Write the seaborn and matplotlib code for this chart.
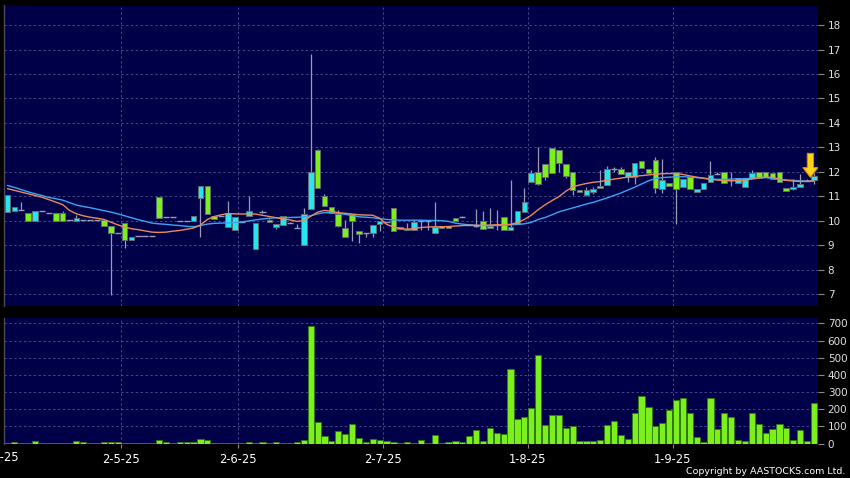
import matplotlib
matplotlib.use("Agg")
import matplotlib.pyplot as plt
import seaborn as sns
import numpy as np
import pandas as pd
from matplotlib.patches import Polygon

# daily candles (HKD), oldest first
opens = [10.37, 10.39, 10.43, 10.30, 10.00, 10.39, 10.30, 10.30, 10.30, 10.02,
         10.00, 10.02, 10.02, 10.02, 10.02, 9.79, 9.51, 9.89, 9.21, 9.37,
         9.37, 9.37, 10.98, 10.13, 10.13, 10.00, 10.00, 10.00, 10.91, 11.42,
         10.20, 10.20, 9.75, 9.61, 9.96, 10.20, 8.86, 10.36, 10.02, 9.75,
         9.84, 9.89, 9.68, 9.00, 10.46, 12.89, 11.00, 10.57, 10.29, 9.68,
         10.27, 9.56, 9.48, 9.48, 9.86, 9.95, 10.52, 9.76, 9.67, 9.62,
         9.99, 10.00, 9.48, 9.78, 9.80, 10.10, 10.13, 9.82, 9.78, 10.00,
         9.72, 9.83, 10.16, 9.62, 9.85, 10.37, 11.60, 12.00, 12.30, 12.98,
         12.87, 12.33, 11.97, 11.27, 11.03, 11.18, 11.33, 11.45, 12.10, 12.10,
         11.80, 11.80, 12.45, 12.10, 12.50, 11.28, 11.55, 11.97, 11.39, 11.80,
         11.16, 11.28, 11.59, 11.90, 11.97, 11.65, 11.55, 11.36, 11.76, 12.00,
         11.97, 11.96, 12.00, 11.32, 11.28, 11.36, 11.62, 11.66]
highs = [11.07, 10.54, 10.77, 10.30, 10.39, 10.39, 10.30, 10.30, 10.41, 10.02,
         10.23, 10.02, 10.02, 10.02, 10.02, 9.79, 9.51, 9.89, 9.32, 9.37,
         9.37, 9.37, 10.98, 10.13, 10.13, 10.00, 10.00, 10.19, 11.42, 11.42,
         10.20, 10.20, 10.80, 10.15, 9.96, 11.00, 9.91, 10.43, 10.05, 9.86,
         10.21, 9.95, 9.86, 10.50, 16.82, 12.92, 11.10, 10.57, 10.42, 10.02,
         10.27, 9.56, 9.48, 9.84, 9.97, 9.95, 10.52, 9.76, 9.90, 10.02,
         9.99, 10.00, 10.78, 9.78, 9.80, 10.10, 10.18, 9.82, 10.46, 10.40,
         10.50, 10.43, 10.16, 11.66, 10.39, 11.33, 12.09, 13.01, 12.30, 12.98,
         12.87, 12.33, 11.97, 11.27, 11.38, 11.38, 12.09, 12.22, 12.20, 12.21,
         12.00, 12.37, 12.45, 12.10, 12.61, 12.52, 11.55, 11.97, 11.69, 11.80,
         11.28, 11.55, 12.45, 12.00, 11.97, 11.99, 11.76, 11.73, 12.09, 12.00,
         11.97, 11.96, 12.00, 11.32, 11.69, 11.90, 11.69, 11.93]
lows = [10.37, 10.39, 10.43, 10.00, 10.00, 10.39, 10.30, 10.00, 10.00, 10.02,
        10.00, 10.02, 10.02, 10.02, 9.79, 6.98, 9.51, 8.87, 9.21, 9.37,
        9.37, 9.37, 10.09, 10.13, 10.13, 10.00, 10.00, 10.00, 9.32, 10.26,
        10.07, 10.20, 9.75, 9.61, 9.96, 10.20, 8.86, 10.30, 9.93, 9.64,
        9.84, 9.89, 9.68, 9.00, 10.46, 11.32, 10.59, 10.32, 9.75, 9.34,
        9.18, 9.10, 9.34, 9.34, 9.57, 9.95, 9.57, 9.67, 9.60, 9.62,
        9.62, 9.62, 9.48, 9.70, 9.72, 10.00, 10.13, 9.82, 9.73, 9.67,
        9.72, 9.62, 9.62, 9.62, 9.85, 10.37, 11.60, 11.45, 11.68, 11.96,
        12.00, 11.73, 11.04, 11.18, 11.00, 11.10, 11.33, 11.45, 12.00, 11.89,
        11.60, 11.52, 12.14, 11.96, 11.14, 11.12, 11.41, 9.85, 11.39, 11.31,
        11.16, 11.28, 11.59, 11.90, 11.55, 11.40, 11.55, 11.36, 11.76, 11.80,
        11.77, 11.69, 11.59, 11.22, 11.24, 11.36, 11.62, 11.52]
closes = [11.07, 10.54, 10.43, 10.00, 10.39, 10.39, 10.30, 10.00, 10.00, 10.02,
          10.12, 10.02, 10.02, 10.02, 9.79, 9.48, 9.51, 9.21, 9.32, 9.37,
          9.37, 9.37, 10.09, 10.13, 10.13, 10.00, 10.00, 10.19, 11.42, 10.26,
          10.07, 10.20, 10.32, 10.15, 9.96, 10.41, 9.91, 10.36, 9.93, 9.86,
          10.21, 9.89, 9.68, 10.29, 12.00, 11.32, 10.59, 10.32, 9.79, 9.34,
          9.98, 9.45, 9.48, 9.84, 9.97, 9.95, 9.57, 9.67, 9.60, 9.96,
          9.99, 10.00, 9.75, 9.70, 9.72, 10.00, 10.13, 9.82, 9.78, 9.67,
          9.80, 9.83, 9.62, 9.75, 10.39, 10.75, 11.96, 11.52, 11.77, 11.96,
          12.34, 11.82, 11.25, 11.18, 11.27, 11.30, 11.40, 12.10, 12.10, 11.89,
          12.00, 12.37, 12.14, 11.96, 11.32, 11.66, 11.41, 11.28, 11.69, 11.31,
          11.28, 11.55, 11.86, 11.90, 11.55, 11.65, 11.76, 11.73, 11.93, 11.80,
          11.77, 11.69, 11.59, 11.22, 11.36, 11.50, 11.62, 11.82]
# volume ('000 shares)
volumes = [1, 6, 1, 1, 13, 1, 1, 1, 1, 1,
           13, 6, 1, 1, 10, 6, 8, 1, 1, 1,
           1, 1, 19, 6, 1, 6, 6, 10, 29, 19,
           1, 1, 4, 1, 1, 6, 4, 6, 1, 8,
           1, 1, 6, 19, 686, 126, 46, 15, 75, 56,
           114, 33, 8, 29, 18, 14, 8, 2, 10, 2,
           19, 2, 49, 2, 6, 12, 8, 46, 78, 14,
           90, 59, 54, 436, 140, 156, 208, 518, 107, 168,
           168, 89, 100, 17, 17, 17, 23, 106, 133, 48,
           25, 180, 276, 211, 104, 118, 195, 251, 265, 180,
           35, 6, 263, 83, 180, 153, 23, 17, 180, 116,
           62, 85, 116, 89, 23, 77, 17, 236]
# moving averages as drawn on the chart
ma_short = [11.31, 11.24, 11.17, 11.10, 11.03, 10.96, 10.86, 10.76, 10.66, 10.42,
            10.28, 10.20, 10.14, 10.10, 10.05, 9.94, 9.83, 9.74, 9.67, 9.63,
            9.58, 9.53, 9.52, 9.53, 9.57, 9.60, 9.65, 9.70, 9.82, 10.05,
            10.17, 10.24, 10.29, 10.28, 10.27, 10.28, 10.27, 10.22, 10.17, 10.12,
            10.08, 10.03, 9.97, 10.00, 10.18, 10.35, 10.42, 10.38, 10.33, 10.30,
            10.27, 10.24, 10.23, 10.22, 10.10, 9.85, 9.74, 9.68, 9.65, 9.68,
            9.72, 9.74, 9.75, 9.75, 9.76, 9.78, 9.80, 9.81, 9.81, 9.81,
            9.82, 9.83, 9.84, 9.85, 9.92, 10.05, 10.22, 10.45, 10.65, 10.82,
            10.98, 11.20, 11.38, 11.46, 11.52, 11.57, 11.60, 11.65, 11.70, 11.74,
            11.78, 11.81, 11.84, 11.87, 11.90, 11.92, 11.93, 11.92, 11.89, 11.83,
            11.78, 11.73, 11.69, 11.66, 11.64, 11.63, 11.64, 11.66, 11.70, 11.74,
            11.78, 11.77, 11.70, 11.65, 11.62, 11.60, 11.61, 11.63]
ma_long = [11.44, 11.36, 11.27, 11.18, 11.10, 11.03, 10.95, 10.90, 10.84, 10.74,
           10.64, 10.58, 10.53, 10.47, 10.41, 10.35, 10.28, 10.20, 10.12, 10.04,
           9.97, 9.90, 9.87, 9.85, 9.82, 9.80, 9.77, 9.75, 9.80, 9.86,
           9.89, 9.90, 9.91, 9.93, 9.95, 9.99, 10.03, 10.07, 10.10, 10.12,
           10.12, 10.13, 10.14, 10.15, 10.20, 10.28, 10.33, 10.32, 10.30, 10.26,
           10.21, 10.16, 10.14, 10.12, 10.08, 10.05, 10.03, 10.02, 10.02, 10.02,
           10.02, 10.01, 10.01, 10.00, 9.97, 9.90, 9.86, 9.83, 9.81, 9.80,
           9.80, 9.81, 9.82, 9.83, 9.85, 9.87, 9.93, 10.05, 10.13, 10.24,
           10.36, 10.44, 10.52, 10.60, 10.68, 10.75, 10.84, 10.93, 11.03, 11.13,
           11.25, 11.37, 11.50, 11.63, 11.72, 11.76, 11.78, 11.79, 11.80, 11.78,
           11.76, 11.74, 11.71, 11.69, 11.69, 11.70, 11.71, 11.72, 11.73, 11.74,
           11.76, 11.73, 11.68, 11.66, 11.65, 11.63, 11.62, 11.62]

month_labels = ["2-5-25", "2-6-25", "2-7-25", "1-8-25", "1-9-25"]
month_first_bar = [17, 34, 55, 76, 97]
prev_month_label = "2-4-25"

BG = "#000000"
PANEL = "#000049"
GRID = "#46468a"
UP = "#26e4f2"
DOWN = "#7cf01c"
WICK = "#9a9ab4"
EDGE = "#5f6f6f"

df = pd.DataFrame({"open": opens, "high": highs, "low": lows,
                   "close": closes, "volume": volumes,
                   "ma_short": ma_short, "ma_long": ma_long})
df["idx"] = np.arange(len(df))

sns.set_style("dark", {"axes.facecolor": PANEL, "figure.facecolor": BG})
plt.rcParams["font.family"] = ["DejaVu Sans"]

fig = plt.figure(figsize=(8.5, 4.78), dpi=100)
ax = fig.add_axes([4 / 850, 1 - 306 / 478, 814 / 850, 300.5 / 478])
axv = fig.add_axes([4 / 850, 1 - 443.5 / 478, 814 / 850, 125.2 / 478])

grid_x = [b - 0.5 for b in month_first_bar]
xlim = (-0.5, len(df) - 0.4)

# price panel
ax.vlines(df["idx"], df["low"], df["high"], color=WICK, linewidth=0.9, zorder=2)
is_up = df["close"] > df["open"]
is_down = df["close"] < df["open"]
is_flat = df["close"] == df["open"]
for mask, col in [(is_up, UP), (is_down, DOWN)]:
    sub = df[mask]
    bottom = sub[["open", "close"]].min(axis=1)
    height = (sub["close"] - sub["open"]).abs()
    ax.bar(sub["idx"], height, bottom=bottom, width=0.82, color=col,
           edgecolor=EDGE, linewidth=0.7, zorder=3)
flat = df[is_flat]
ax.hlines(flat["close"], flat["idx"] - 0.45, flat["idx"] + 0.45,
          color=WICK, linewidth=1.0, zorder=3)

sns.lineplot(data=df, x="idx", y="ma_long", ax=ax, color="#3aa6f0",
             linewidth=1.0, zorder=4)
sns.lineplot(data=df, x="idx", y="ma_short", ax=ax, color="#e98a5c",
             linewidth=1.0, zorder=4)

# yellow marker above the last candle
xa = df["idx"].iloc[-1] - 0.5
tip = df["close"].iloc[-1] - 0.05
arrow = Polygon([(xa - 0.45, tip + 0.98), (xa + 0.45, tip + 0.98),
                 (xa + 0.45, tip + 0.4), (xa + 1.1, tip + 0.4),
                 (xa, tip), (xa - 1.1, tip + 0.4), (xa - 0.45, tip + 0.4)],
                closed=True, facecolor="#ffd21a", edgecolor="#e08a00",
                linewidth=0.8, zorder=6)
ax.add_patch(arrow)

ax.set_xlim(*xlim)
ax.set_ylim(6.51, 18.8)
ax.set_yticks(range(7, 19))
ax.set_xticks(grid_x)
ax.set_xticklabels([])

# volume panel
sns.barplot(data=df, x="idx", y="volume", ax=axv, native_scale=True,
            color=DOWN, saturation=1, width=0.9, edgecolor="#2f7a10",
            linewidth=0.6, errorbar=None, zorder=3)
axv.set_xlim(*xlim)
axv.set_ylim(0, 730)
axv.set_yticks(range(0, 701, 100))
axv.set_xticks(grid_x)
axv.set_xticklabels(month_labels)
# previous month's label sits just off the left edge, as in the source chart
axv.text(-1.1, -0.06, prev_month_label, transform=axv.get_xaxis_transform(),
         ha="center", va="top", color="white", fontsize=8.3, clip_on=False)

for a in (ax, axv):
    a.set_facecolor(PANEL)
    a.set_xlabel("")
    a.set_ylabel("")
    a.yaxis.tick_right()
    a.grid(True, color=GRID, linestyle=(0, (2.5, 2.5)), linewidth=0.7)
    a.set_axisbelow(True)
    a.tick_params(axis="y", colors="#8a8a8a", labelcolor="#e0e0e0",
                  direction="out", length=4, width=0.8, pad=3, labelsize=7.5,
                  right=True, left=False)
    for side in ("top", "right", "bottom"):
        a.spines[side].set_visible(False)
    a.spines["left"].set_color("#4a4a5a")
    a.spines["left"].set_linewidth(1.0)

ax.tick_params(axis="x", length=0)
axv.tick_params(axis="x", colors="#8a8a8a", labelcolor="white",
                direction="out", length=3, width=0.8, pad=4, labelsize=8.3,
                bottom=True)

fig.text(845 / 850, 1 - 471.5 / 478, "Copyright by AASTOCKS.com Ltd.",
         ha="right", va="center", color="white", fontsize=6.8)

fig.savefig("out.png", dpi=100, facecolor=BG)
